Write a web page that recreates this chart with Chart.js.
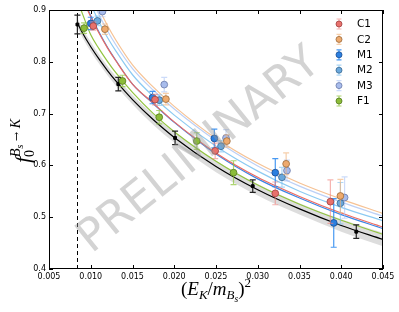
<!DOCTYPE html>
<html>
<head>
<meta charset="utf-8">
<script src="https://cdn.jsdelivr.net/npm/chart.js@4.4.0/dist/chart.umd.min.js"></script>
<style>
  html, body { margin: 0; padding: 0; background: #fff; }
</style>
</head>
<body>
<canvas id="myChart" width="399" height="312"></canvas>
<script>
// tick labels
let xTicks = [0.005, 0.010, 0.015, 0.020, 0.025, 0.030, 0.035, 0.040, 0.045];
let yTicks = [0.4, 0.5, 0.6, 0.7, 0.8, 0.9];
let cutX = 0.0084;

// lattice points
let c1X = [0.0103, 0.0177, 0.0249, 0.0321, 0.0387];
let c1Y = [0.869, 0.727, 0.628, 0.546, 0.530];
let c1E = [0.008, 0.010, 0.015, 0.022, 0.042];
let c2X = [0.0117, 0.0190, 0.0263, 0.0334, 0.0399];
let c2Y = [0.863, 0.728, 0.647, 0.603, 0.541];
let c2E = [0.010, 0.011, 0.012, 0.021, 0.032];
let m1X = [0.0100, 0.0174, 0.0248, 0.0321, 0.0391];
let m1Y = [0.874, 0.731, 0.652, 0.586, 0.489];
let m1E = [0.012, 0.012, 0.018, 0.027, 0.047];
let m2X = [0.0108, 0.0182, 0.0256, 0.0329, 0.0399];
let m2Y = [0.879, 0.726, 0.637, 0.577, 0.527];
let m2E = [0.009, 0.010, 0.011, 0.019, 0.040];
let m3X = [0.0114, 0.0188, 0.0262, 0.0335, 0.0404];
let m3Y = [0.897, 0.756, 0.653, 0.590, 0.538];
let m3E = [0.010, 0.014, 0.016, 0.020, 0.040];
let f1X = [0.0092, 0.0138, 0.0182, 0.0227, 0.0271];
let f1Y = [0.865, 0.763, 0.693, 0.647, 0.586];
let f1E = [0.010, 0.011, 0.013, 0.016, 0.023];
let ctX = [0.0084, 0.0133, 0.0201, 0.0294, 0.0418];
let ctY = [0.872, 0.757, 0.653, 0.560, 0.472];
let ctE = [0.018, 0.013, 0.013, 0.012, 0.013];

// fit curves
let curveX = [0.0084, 0.009, 0.010, 0.011, 0.012, 0.013, 0.015, 0.0175, 0.020, 0.025, 0.030, 0.035, 0.040, 0.045];
let fitCt  = [0.875, 0.856, 0.829, 0.805, 0.783, 0.763, 0.727, 0.688, 0.654, 0.598, 0.553, 0.516, 0.484, 0.457];
let bandHi = [0.884, 0.865, 0.838, 0.814, 0.792, 0.772, 0.736, 0.698, 0.664, 0.609, 0.564, 0.527, 0.496, 0.470];
let bandLo = [0.866, 0.847, 0.820, 0.796, 0.774, 0.754, 0.718, 0.678, 0.644, 0.587, 0.542, 0.505, 0.472, 0.444];
let fitF1  = [0.918, 0.893, 0.852, 0.825, 0.801, 0.779, 0.741, 0.700, 0.665, 0.608, 0.562, 0.525, 0.494, 0.467];
let fitC1  = [0.945, 0.922, 0.887, 0.855, 0.827, 0.802, 0.757, 0.720, 0.684, 0.624, 0.577, 0.540, 0.508, 0.481];
let fitM1  = [0.948, 0.925, 0.889, 0.857, 0.828, 0.803, 0.757, 0.719, 0.683, 0.622, 0.574, 0.537, 0.505, 0.478];
let fitM2  = [0.975, 0.950, 0.911, 0.877, 0.847, 0.821, 0.775, 0.733, 0.697, 0.637, 0.589, 0.550, 0.519, 0.493];
let fitM3  = [0.995, 0.968, 0.927, 0.891, 0.860, 0.833, 0.787, 0.745, 0.709, 0.648, 0.599, 0.560, 0.529, 0.502];
let fitC2  = [1.005, 0.978, 0.937, 0.902, 0.870, 0.842, 0.794, 0.751, 0.714, 0.652, 0.604, 0.566, 0.535, 0.507];

function pts(xs, ys) {
  return xs.map(function(x, i) { return { x: x, y: ys[i] }; });
}

let series = [
  { name: 'C1', x: c1X, y: c1Y, e: c1E, fill: '#e8716c', edge: '#a04040', err: 'rgba(240,130,125,0.6)' },
  { name: 'C2', x: c2X, y: c2Y, e: c2E, fill: '#eeaa6e', edge: '#9a6a3a', err: 'rgba(240,175,115,0.6)' },
  { name: 'M1', x: m1X, y: m1Y, e: m1E, fill: '#2b7fe0', edge: '#1a4d90', err: 'rgba(40,135,240,0.85)' },
  { name: 'M2', x: m2X, y: m2Y, e: m2E, fill: '#6aa8dc', edge: '#3a6890', err: 'rgba(120,190,240,0.6)' },
  { name: 'M3', x: m3X, y: m3Y, e: m3E, fill: '#a8bcec', edge: '#6878a8', err: 'rgba(170,195,245,0.6)' },
  { name: 'F1', x: f1X, y: f1Y, e: f1E, fill: '#8cbc38', edge: '#567a20', err: 'rgba(140,195,55,0.7)' }
];

let datasets = [];
series.forEach(function(s) {
  datasets.push({
    label: s.name, data: pts(s.x, s.y), errs: s.e, errColor: s.err,
    pointRadius: 3.4, pointBackgroundColor: s.fill, pointBorderColor: s.edge,
    pointBorderWidth: 0.8, showLine: false, order: 1
  });
});
datasets.push({
  label: 'cont', data: pts(ctX, ctY), errs: ctE, errColor: '#222',
  pointStyle: 'rect', pointRadius: 2, pointBackgroundColor: '#000', pointBorderColor: '#000',
  showLine: false, order: 1
});

let lines = [
  [fitC2, '#f6c294'], [fitM3, '#bcd0f6'], [fitM2, '#8ccaf2'],
  [fitC1, '#ec6a62'], [fitM1, '#3a86e6'], [fitF1, '#92c440'], [fitCt, '#000000']
];
lines.forEach(function(l) {
  datasets.push({
    type: 'line', data: pts(curveX, l[0]), borderColor: l[1], borderWidth: 1.2,
    pointRadius: 0, showLine: true, fill: false, cubicInterpolationMode: 'monotone', order: 2
  });
});
let hiIndex = datasets.length;
datasets.push({
  type: 'line', data: pts(curveX, bandHi), borderWidth: 0, borderColor: 'rgba(0,0,0,0)',
  backgroundColor: 'rgba(170,170,170,0.4)', pointRadius: 0, showLine: true,
  fill: hiIndex + 1, cubicInterpolationMode: 'monotone', order: 3
});
datasets.push({
  type: 'line', data: pts(curveX, bandLo), borderWidth: 0, borderColor: 'rgba(0,0,0,0)',
  pointRadius: 0, showLine: true, fill: false, cubicInterpolationMode: 'monotone', order: 3
});

function drawRuns(ctx, runs, x0, y0) {
  let x = x0;
  runs.forEach(function(r) {
    ctx.font = r.f;
    if (r.back) x = r.back.x;
    ctx.fillText(r.t, x, y0 + (r.dy || 0));
    let w = ctx.measureText(r.t).width;
    if (r.mark) r.mark.x = x + w;
    x += w;
  });
  return x - x0;
}

function runsWidth(ctx, runs) {
  ctx.save();
  ctx.globalAlpha = 0;
  let w = drawRuns(ctx, runs, 0, -1000);
  ctx.restore();
  return w;
}

let extras = {
  id: 'extras',
  beforeDatasetsDraw: function(chart) {
    let ctx = chart.ctx, a = chart.chartArea;
    let px = chart.scales.x.getPixelForValue(cutX);
    ctx.save();
    ctx.strokeStyle = '#000';
    ctx.lineWidth = 1;
    ctx.setLineDash([4, 3]);
    ctx.beginPath();
    ctx.moveTo(Math.round(px) + 0.5, a.bottom);
    ctx.lineTo(Math.round(px) + 0.5, a.top);
    ctx.stroke();
    ctx.restore();
  },
  beforeDatasetDraw: function(chart, args) {
    let ds = chart.data.datasets[args.index];
    if (!ds.errs) return;
    let ctx = chart.ctx, a = chart.chartArea;
    let xs = chart.scales.x, ys = chart.scales.y;
    ctx.save();
    ctx.beginPath();
    ctx.rect(a.left, a.top, a.right - a.left, a.bottom - a.top);
    ctx.clip();
    ctx.strokeStyle = ds.errColor;
    ctx.lineWidth = 1.2;
    ds.data.forEach(function(p, i) {
      let px = xs.getPixelForValue(p.x);
      let y1 = ys.getPixelForValue(p.y - ds.errs[i]);
      let y2 = ys.getPixelForValue(p.y + ds.errs[i]);
      ctx.beginPath();
      ctx.moveTo(px, y1); ctx.lineTo(px, y2);
      ctx.moveTo(px - 3, y1); ctx.lineTo(px + 3, y1);
      ctx.moveTo(px - 3, y2); ctx.lineTo(px + 3, y2);
      ctx.stroke();
    });
    ctx.restore();
  },
  afterDatasetsDraw: function(chart) {
    let ctx = chart.ctx, a = chart.chartArea;
    let xs = chart.scales.x, ys = chart.scales.y;

    // watermark
    ctx.save();
    ctx.translate(197, 148);
    ctx.rotate(-39 * Math.PI / 180);
    ctx.font = '45px "DejaVu Sans"';
    ctx.fillStyle = 'rgba(150,150,150,0.42)';
    ctx.textAlign = 'center';
    ctx.textBaseline = 'alphabetic';
    ctx.fillText('PRELIMINARY', 0, 16);
    ctx.restore();

    // frame and inward ticks
    ctx.save();
    ctx.strokeStyle = '#000';
    ctx.lineWidth = 1;
    ctx.strokeRect(a.left + 0.5, a.top + 0.5, a.right - a.left - 1, a.bottom - a.top - 1);
    ctx.beginPath();
    xTicks.forEach(function(v) {
      let px = Math.round(xs.getPixelForValue(v)) + 0.5;
      ctx.moveTo(px, a.bottom); ctx.lineTo(px, a.bottom - 4);
      ctx.moveTo(px, a.top); ctx.lineTo(px, a.top + 4);
    });
    yTicks.forEach(function(v) {
      let py = Math.round(ys.getPixelForValue(v)) + 0.5;
      ctx.moveTo(a.left, py); ctx.lineTo(a.left + 4, py);
      ctx.moveTo(a.right, py); ctx.lineTo(a.right - 4, py);
    });
    ctx.stroke();
    ctx.restore();

    // legend
    ctx.save();
    series.forEach(function(s, i) {
      let lx = 339, ly = 24 + 15.4 * i;
      ctx.strokeStyle = s.err;
      ctx.lineWidth = 1.2;
      ctx.beginPath();
      ctx.moveTo(lx, ly - 5); ctx.lineTo(lx, ly + 5);
      ctx.moveTo(lx - 2.5, ly - 5); ctx.lineTo(lx + 2.5, ly - 5);
      ctx.moveTo(lx - 2.5, ly + 5); ctx.lineTo(lx + 2.5, ly + 5);
      ctx.stroke();
      ctx.beginPath();
      ctx.arc(lx, ly, 3, 0, Math.PI * 2);
      ctx.fillStyle = s.fill;
      ctx.fill();
      ctx.strokeStyle = s.edge;
      ctx.lineWidth = 0.8;
      ctx.stroke();
      ctx.fillStyle = '#000';
      ctx.font = '10.5px "DejaVu Sans"';
      ctx.textBaseline = 'middle';
      ctx.fillText(s.name, 357, ly + 0.5);
    });
    ctx.restore();
  },
  afterDraw: function(chart) {
    let ctx = chart.ctx;
    let it = 'italic 19px "Liberation Serif"';
    let it13 = 'italic 13px "Liberation Serif"';
    let it10 = 'italic 9.5px "Liberation Serif"';
    let rm = '19px "Liberation Serif"';
    let rm13 = '13px "Liberation Serif"';
    ctx.save();
    ctx.fillStyle = '#000';
    ctx.textBaseline = 'alphabetic';
    // x title (E_K/m_Bs)^2
    let xr = [
      { t: '(', f: rm }, { t: 'E', f: it }, { t: 'K', f: it13, dy: 4 },
      { t: '/', f: rm }, { t: 'm', f: it }, { t: 'B', f: it13, dy: 4 },
      { t: 's', f: it10, dy: 7 }, { t: ')', f: rm }, { t: '2', f: rm13, dy: -8 }
    ];
    let w = runsWidth(ctx, xr);
    drawRuns(ctx, xr, 216 - w / 2, 295);

    // y title f_0^{Bs -> K}
    ctx.translate(30, 141);
    ctx.rotate(-Math.PI / 2);
    let m = { x: 0 };
    let yr = [
      { t: 'f', f: 'italic 22px "Liberation Serif"', mark: m },
      { t: '0', f: '14px "Liberation Serif"', dy: 4 },
      { t: 'B', f: 'italic 14px "Liberation Serif"', dy: -10, back: m },
      { t: 's', f: 'italic 10px "Liberation Serif"', dy: -7 },
      { t: ' \u2192 ', f: '11px "DejaVu Serif"', dy: -10 },
      { t: 'K', f: 'italic 14px "Liberation Serif"', dy: -10 }
    ];
    let w2 = runsWidth(ctx, yr);
    drawRuns(ctx, yr, -w2 / 2, 0);
    ctx.restore();
  }
};

let chart = new Chart(document.getElementById('myChart'), {
  type: 'scatter',
  data: { datasets: datasets },
  options: {
    responsive: false,
    animation: false,
    events: [],
    layout: { padding: { top: 10, right: 16, left: 0, bottom: 0 } },
    plugins: { legend: { display: false }, tooltip: { enabled: false } },
    scales: {
      x: {
        type: 'linear', min: 0.005, max: 0.045,
        grid: { display: false, drawTicks: false },
        border: { display: false },
        afterBuildTicks: function(scale) { scale.ticks = xTicks.map(function(v) { return { value: v }; }); },
        afterFit: function(scale) { scale.height = 43; },
        ticks: {
          padding: 3, color: '#000', font: { family: 'DejaVu Sans', size: 8 },
          maxRotation: 0, autoSkip: false,
          callback: function(v) { return v.toFixed(3); }
        }
      },
      y: {
        type: 'linear', min: 0.4, max: 0.9,
        grid: { display: false, drawTicks: false },
        border: { display: false },
        afterBuildTicks: function(scale) { scale.ticks = yTicks.map(function(v) { return { value: v }; }); },
        afterFit: function(scale) { scale.width = 49; },
        ticks: {
          padding: 3, color: '#000', font: { family: 'DejaVu Sans', size: 8 },
          autoSkip: false,
          callback: function(v) { return v.toFixed(1); }
        }
      }
    }
  },
  plugins: [extras]
});
</script>
</body>
</html>
